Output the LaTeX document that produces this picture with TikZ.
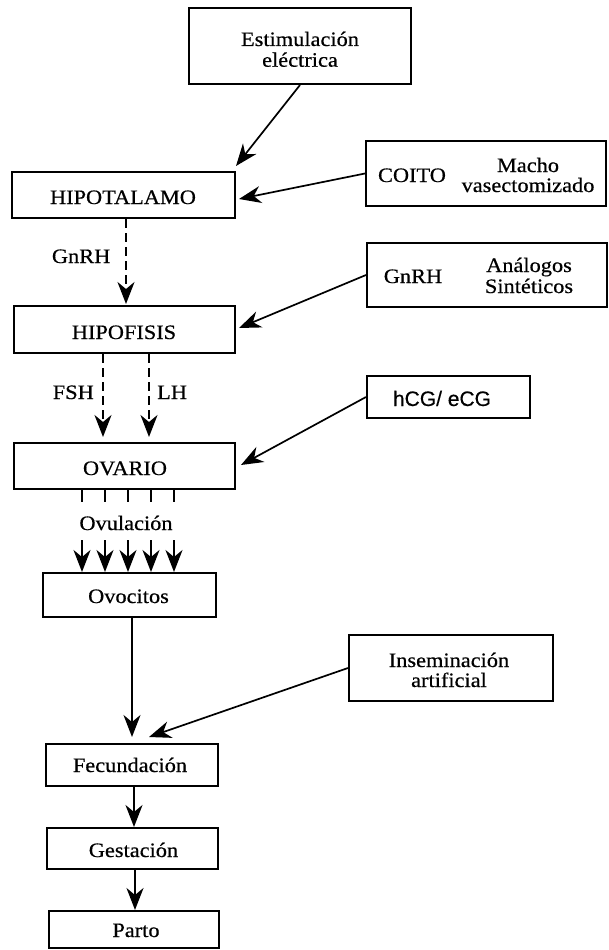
\documentclass[tikz,border=0pt]{standalone}
\usepackage{fontspec}
\setmainfont{Liberation Serif}[FakeStretch=1.09,FakeBold=0.5]
\newfontfamily\sansf{Liberation Sans}[FakeBold=0.4]
\usetikzlibrary{arrows.meta}
\begin{document}
\begin{tikzpicture}[x=1pt,y=-1pt,
  box/.style={draw, line width=2pt, rectangle, inner sep=0pt},
  txt/.style={anchor=base, inner sep=0pt, font=\fontsize{20.5}{21}\selectfont},
  stxt/.style={anchor=base, inner sep=0pt, font=\sansf\fontsize{21}{22}\selectfont},
  arr/.style={line width=1.7pt, -{Stealth[length=22pt,width=17pt,inset=7pt]}},
  darr/.style={arr, dash pattern=on 9pt off 5pt},
  tickline/.style={line width=1.7pt}]
\fill[white] (0,0) rectangle (608,950);
\useasboundingbox (0,0) rectangle (608,950);

% boxes
\node[box, minimum width=222pt, minimum height=76pt] (est)    at (300,46)    {};
\node[box, minimum width=223pt, minimum height=46pt] (hipot)  at (123.5,195)  {};
\node[box, minimum width=240pt, minimum height=65pt] (coito)  at (486,173.5)  {};
\node[box, minimum width=240pt, minimum height=64pt] (gnrhb)  at (487,275)    {};
\node[box, minimum width=221pt, minimum height=47pt] (hipof)  at (124.5,329.5){};
\node[box, minimum width=163pt, minimum height=42pt] (hcg)    at (448.5,397)  {};
\node[box, minimum width=221pt, minimum height=46pt] (ovario) at (124.5,466)  {};
\node[box, minimum width=173pt, minimum height=44pt] (ovoc)   at (129.5,595)  {};
\node[box, minimum width=204pt, minimum height=66pt] (insem)  at (451,668)    {};
\node[box, minimum width=172pt, minimum height=42pt] (fecun)  at (132,765)    {};
\node[box, minimum width=171pt, minimum height=41pt] (gest)   at (132.5,848.5){};
\node[box, minimum width=170pt, minimum height=37pt] (parto)  at (134,929.5)  {};

% texts
\node[txt] (est1) at (300,46) {Estimulación};
\node[txt] (est2) at (300,66.7) {eléctrica};
\node[txt] (hipott) at (123,204) {HIPOTALAMO};
\node[txt] (coitot) at (412,182) {COITO};
\node[txt] (mach1) at (528,172) {Macho};
\node[txt] (mach2) at (528,192) {vasectomizado};
\node[txt, anchor=base east] (gnrhl) at (110.5,263) {GnRH};
\node[txt] (gnrht) at (413,283) {GnRH};
\node[txt] (anal1) at (529,272) {Análogos};
\node[txt] (anal2) at (529,293) {Sintéticos};
\node[txt] (hipoft) at (124,339) {HIPOFISIS};
\node[txt, anchor=base east] (fshl) at (94,399) {FSH};
\node[txt, anchor=base west] (lhl) at (157,399) {LH};
\node[stxt] (hcgt) at (442,406) {hCG/ eCG};
\node[txt] (ovariot) at (125,475) {OVARIO};
\node[txt] (ovul) at (126,530) {Ovulación};
\node[txt] (ovoct) at (128.5,603) {Ovocitos};
\node[txt] (ins1) at (449,667) {Inseminación};
\node[txt] (ins2) at (449,687) {artificial};
\node[txt] (fecunt) at (130,772) {Fecundación};
\node[txt] (gestt) at (133.5,857) {Gestación};
\node[txt] (partot) at (136,937) {Parto};

% connectors
\draw[arr] (est.south) -- ([yshift=5pt]hipot.north east);
\draw[arr] (coito.west) -- ([xshift=3pt,yshift=-4pt]hipot.east);
\draw[darr] ([xshift=2.5pt]hipot.south) -- ([xshift=1.5pt,yshift=1pt]hipof.north);
\draw[arr] (gnrhb.west) -- ([xshift=3pt,yshift=1.5pt]hipof.east);
\draw[darr] ([xshift=-21.5pt]hipof.south) -- ([xshift=-21.5pt,yshift=5pt]ovario.north);
\draw[darr] ([xshift=24.5pt]hipof.south) -- ([xshift=24.5pt,yshift=5pt]ovario.north);
\draw[arr] (hcg.west) -- ([xshift=5pt,yshift=1pt]ovario.east);
\foreach \i/\x in {1/82,2/105,3/128,4/151,5/174}{
  \coordinate (ta\i) at (\x,502);
  \coordinate (ts\i) at (\x,540);
  \draw[tickline] (ovario.south -| ta\i) -- (ta\i);
  \draw[arr] (ts\i) -- (ovoc.north -| ts\i);
}
\draw[arr] (ovoc.south -| fecun.north) -- ([yshift=6pt]fecun.north);
\draw[arr] (insem.west) -- ([xshift=17pt,yshift=6pt]fecun.north);
\draw[arr] ([xshift=2pt]fecun.south) -- ([xshift=1.5pt]gest.north);
\draw[arr] ([xshift=2.5pt]gest.south) -- ([xshift=1pt]parto.north);
\end{tikzpicture}
\end{document}
